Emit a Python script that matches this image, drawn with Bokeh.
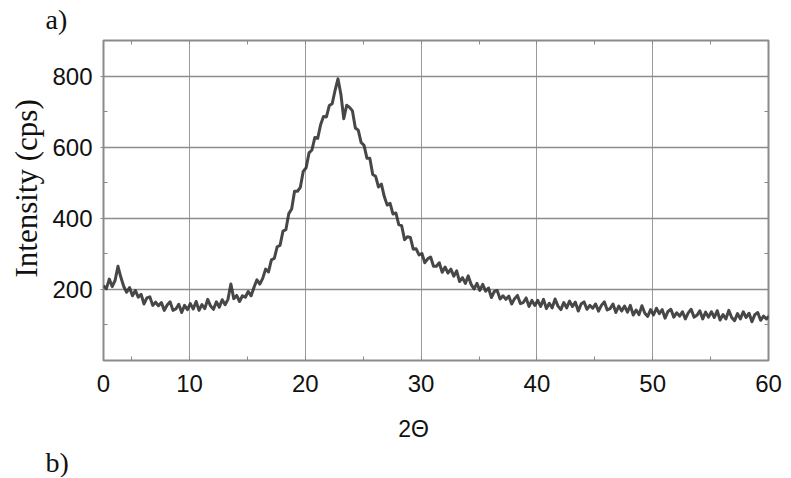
import math
from bokeh.plotting import figure
from bokeh.models import (FixedTicker, LinearAxis, Range1d, ColumnDataSource, Title)
from bokeh.embed import file_html
from bokeh.resources import INLINE

# ---- data (2θ from 2.57 in 0.25° steps) ----
two_theta_start = 2.57
two_theta_step = 0.25
intensity = [
    210, 202, 229, 208, 225, 265, 234, 208, 192, 205,
    182, 197, 178, 186, 159, 176, 179, 155, 164, 154,
    163, 141, 156, 165, 141, 145, 158, 135, 155, 143,
    160, 145, 166, 141, 157, 146, 172, 153, 144, 165,
    150, 171, 157, 172, 215, 174, 183, 166, 182, 178,
    194, 182, 206, 227, 215, 231, 257, 249, 283, 287,
    320, 324, 364, 368, 413, 426, 476, 476, 487, 532,
    542, 584, 592, 627, 625, 663, 686, 685, 717, 722,
    760, 792, 749, 680, 718, 712, 702, 654, 648, 613,
    605, 569, 569, 523, 518, 488, 496, 461, 437, 442,
    412, 415, 382, 379, 340, 348, 346, 313, 314, 297,
    301, 275, 286, 291, 265, 265, 275, 248, 263, 246,
    257, 237, 252, 222, 233, 217, 238, 214, 201, 217,
    197, 214, 195, 204, 177, 194, 197, 173, 182, 172,
    181, 159, 174, 183, 160, 163, 176, 152, 169, 155,
    169, 152, 172, 146, 161, 148, 173, 153, 143, 163,
    148, 167, 152, 164, 139, 159, 165, 144, 155, 147,
    159, 139, 155, 165, 142, 146, 159, 135, 153, 139,
    153, 136, 155, 128, 142, 129, 154, 133, 124, 143,
    128, 147, 132, 143, 119, 138, 144, 122, 134, 125,
    137, 117, 134, 144, 122, 127, 140, 117, 136, 122,
    137, 121, 140, 114, 129, 117, 141, 121, 112, 132,
    117, 137, 121, 133, 109, 129, 135, 113, 125, 117,
    125,
]
two_theta = [two_theta_start + two_theta_step * i for i in range(len(intensity))]

x_major_ticks = [2.57, 10, 20, 30, 40, 50, 60]
x_tick_labels = {2.57: "0"}
x_minor_ticks = [5, 15, 25, 35, 45, 55]
y_major_ticks = [200, 400, 600, 800]
y_minor_ticks = [100, 300, 500, 700]
x_label = "2\u0398"
y_label = "Intensity (cps)"
panel_a = "a)"
panel_b = "b)"

p = figure(output_backend="svg", toolbar_location=None,
           x_range=Range1d(2.57, 60.0), y_range=Range1d(0, 900),
           frame_width=665, frame_height=320,
           min_border_left=103, min_border_top=40, min_border_right=23, min_border_bottom=112,
           x_axis_location=None, y_axis_location=None)
p.background_fill_color = "white"
p.border_fill_color = "white"
p.outline_line_color = "#8a8a8a"
p.outline_line_width = 2

src = ColumnDataSource(dict(x=two_theta, y=intensity))
p.line("x", "y", source=src, line_color="#2e2e2e", line_width=3.0, line_alpha=0.88,
       line_join="round")

tick_font = "Liberation Sans"
serif = "Liberation Serif"

def style_axis(ax, ticks, labels=True):
    ax.axis_line_color = None
    ax.major_tick_line_color = "#8a8a8a"
    ax.minor_tick_line_color = "#8a8a8a"
    ax.major_tick_line_width = 1
    ax.minor_tick_line_width = 1
    if labels:
        ax.major_label_text_font = tick_font
        ax.major_label_text_font_size = "24px"
        ax.major_label_text_color = "#111111"
    else:
        ax.major_label_overrides = {t: "" for t in ticks}
        ax.major_label_standoff = 0

xb = LinearAxis(ticker=FixedTicker(ticks=x_major_ticks, minor_ticks=x_minor_ticks))
style_axis(xb, x_major_ticks)
xb.major_label_overrides = x_tick_labels
xb.major_tick_out = 0
xb.major_tick_in = 4
xb.minor_tick_out = 0
xb.minor_tick_in = 4
xb.major_label_standoff = 14
# axis title sits left of the frame centre in the original: pad with no-break spaces
xb.axis_label = x_label + "\u00a0" * 7
xb.axis_label_text_font = tick_font
xb.axis_label_text_font_size = "23px"
xb.axis_label_text_font_style = "normal"
xb.axis_label_text_color = "#111111"
xb.axis_label_standoff = 21
p.add_layout(xb, "below")

xt = LinearAxis(ticker=FixedTicker(ticks=x_major_ticks, minor_ticks=x_minor_ticks))
style_axis(xt, x_major_ticks, labels=False)
xt.major_tick_out = 0
xt.major_tick_in = 4
xt.minor_tick_out = 0
xt.minor_tick_in = 4
p.add_layout(xt, "above")

yl = LinearAxis(ticker=FixedTicker(ticks=y_major_ticks, minor_ticks=y_minor_ticks))
style_axis(yl, y_major_ticks)
yl.major_tick_out = 3
yl.major_tick_in = 0
yl.minor_tick_out = 0
yl.minor_tick_in = 4
yl.major_label_standoff = 8
p.add_layout(yl, "left")

yr = LinearAxis(ticker=FixedTicker(ticks=y_major_ticks, minor_ticks=y_minor_ticks))
style_axis(yr, y_major_ticks, labels=False)
yr.major_tick_out = 0
yr.major_tick_in = 4
yr.minor_tick_out = 0
yr.minor_tick_in = 4
p.add_layout(yr, "right")

p.xgrid.ticker = FixedTicker(ticks=x_major_ticks)
p.ygrid.ticker = FixedTicker(ticks=y_major_ticks)
p.xgrid.grid_line_color = "#999999"
p.ygrid.grid_line_color = "#8c8c8c"
p.xgrid.grid_line_width = 1
p.ygrid.grid_line_width = 1.3

# titles / labels placed in side panels
p.add_layout(Title(text=panel_b, align="left", offset=-58, standoff=0,
                   text_font=serif, text_font_size="28px", text_font_style="normal",
                   text_line_height=0.8, text_color="#111111"), "below")
p.add_layout(Title(text=y_label, align="left", offset=83, standoff=12,
                   text_font=serif, text_font_size="31px", text_font_style="normal",
                   text_line_height=0.8, text_color="#111111"), "left")
p.add_layout(Title(text=panel_a, align="left", offset=-58, standoff=7,
                   vertical_align="top",
                   text_font=serif, text_font_size="28px", text_font_style="normal",
                   text_line_height=0.8, text_color="#111111"), "above")

open("out.html", "w").write(file_html(p, INLINE))
